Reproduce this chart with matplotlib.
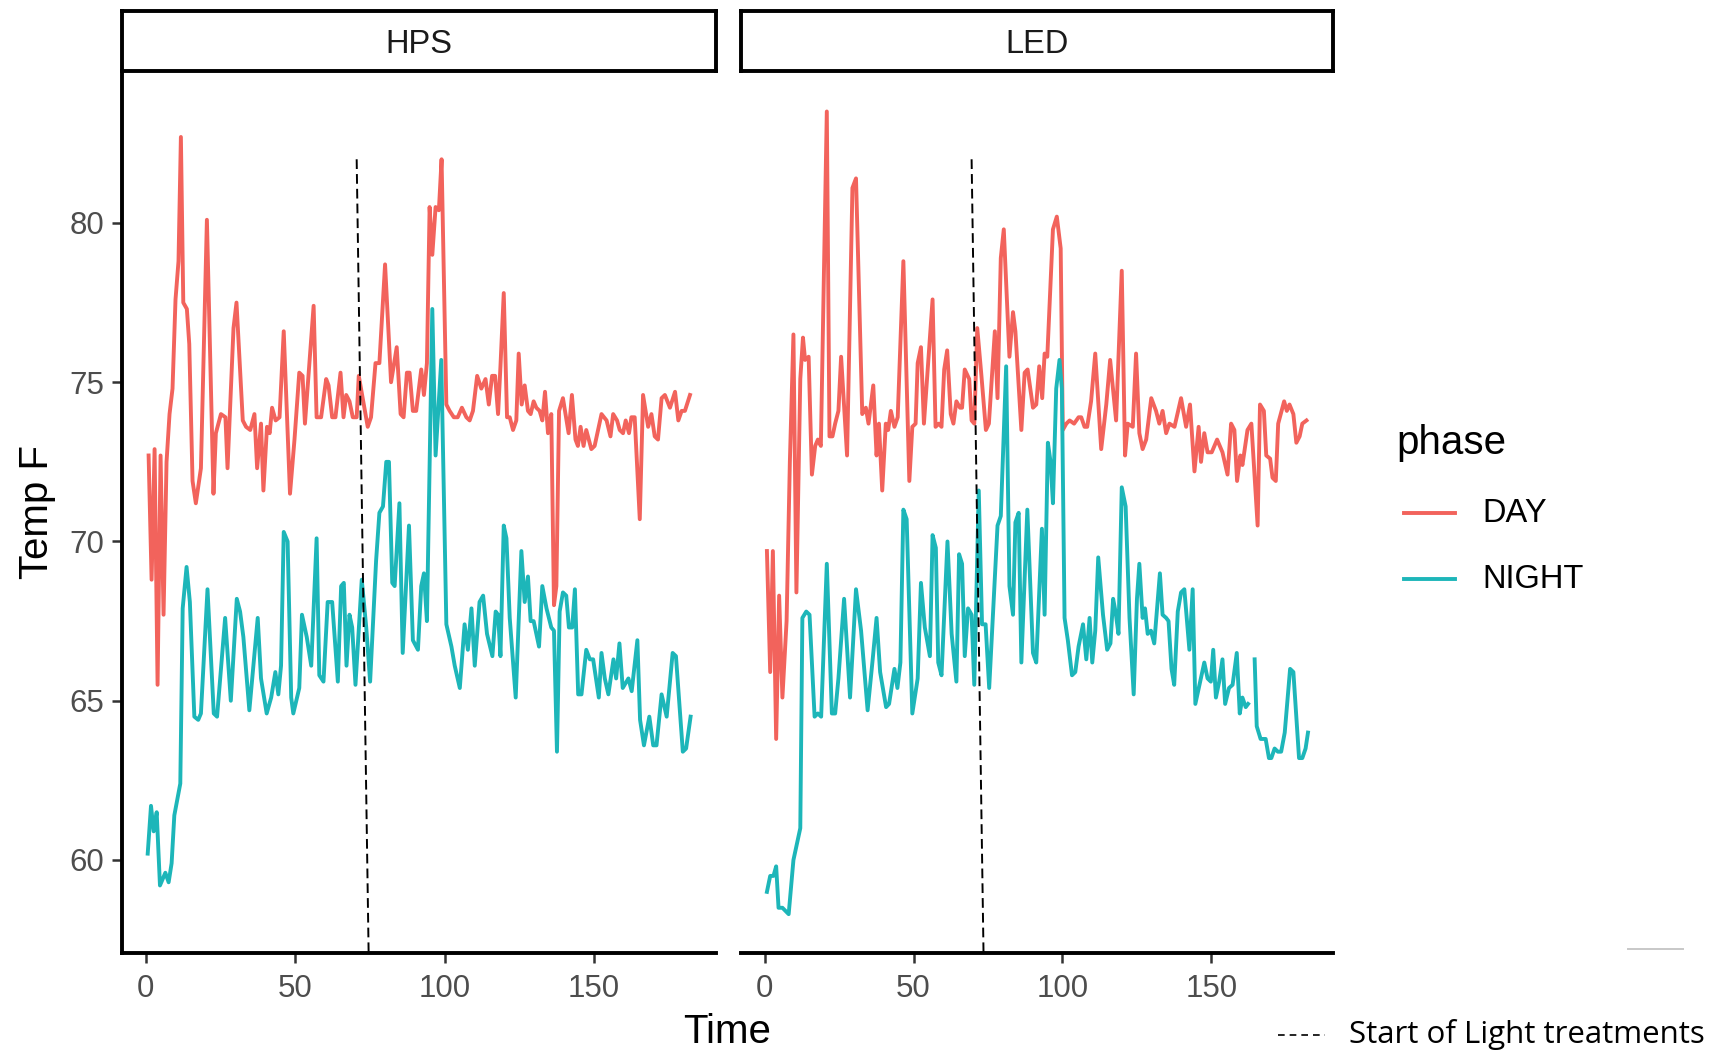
import numpy as np
import matplotlib
matplotlib.use("Agg")
import matplotlib.pyplot as plt
from matplotlib.lines import Line2D

plt.rcParams['font.family'] = ['Liberation Sans', 'DejaVu Sans']

#--- Data: (Time, Temp F) per panel and phase ---------------------------------

hps_day = [(1, 72.7), (2, 68.8), (3, 72.9), (4, 65.5), (5, 72.7), (6, 67.7), (7, 72.5),
           (8, 74.0), (9, 74.8), (10, 77.6), (11, 78.8), (11.8, 82.7), (12.6, 77.5),
           (13.8, 77.3), (14.6, 76.2), (15.7, 71.9), (16.8, 71.2), (18.5, 72.3), (20.5, 80.1),
           (22.7, 71.5), (23.5, 73.4), (25.2, 74.0), (26.7, 73.9), (27.4, 72.3), (29.4, 76.7),
           (30.4, 77.5), (32.5, 73.8), (33.6, 73.6), (35, 73.5), (36.4, 74.0), (37.3, 72.3),
           (38.6, 73.7), (39.4, 71.6), (40.6, 73.6), (41.5, 73.4), (42.3, 74.2), (43.5, 73.8),
           (44.8, 73.9), (46.2, 76.6), (48.3, 71.5), (49.8, 73.2), (51.4, 75.3), (52.5, 75.2),
           (53.3, 73.7), (56.2, 77.4), (57.2, 73.9), (58.7, 73.9), (60.4, 75.1), (61.2, 74.9),
           (62.4, 73.9), (63.5, 73.9), (65.2, 75.3), (66.2, 73.9), (67.1, 74.6), (68.2, 74.4),
           (69.3, 73.9), (70.6, 73.9), (71.3, 75.2), (72.6, 74.5), (74.3, 73.6), (75.4, 73.9),
           (76.9, 75.6), (78.2, 75.6), (80.1, 78.7), (82.1, 75.0), (84.0, 76.1), (85.3, 74.0),
           (86.3, 73.9), (87.4, 75.3), (88.3, 75.3), (89.4, 74.1), (90.5, 74.1), (92.2, 75.4),
           (93.1, 74.6), (94.1, 75.6), (95.0, 80.5), (95.9, 79.0), (97.0, 80.5), (98.1, 80.4),
           (99.0, 82.0), (100.6, 74.3), (101.7, 74.1), (103.1, 73.9), (104.4, 73.9),
           (105.8, 74.2), (107.3, 73.9), (108.4, 73.8), (109.5, 74.1), (110.9, 75.2),
           (112.3, 74.8), (113.7, 75.1), (114.8, 74.3), (115.9, 75.2), (116.9, 75.2),
           (117.9, 74.0), (118.7, 75.5), (119.8, 77.8), (120.9, 73.9), (121.8, 73.9),
           (122.9, 73.5), (124.0, 73.8), (124.8, 75.9), (125.8, 74.3), (126.8, 74.9),
           (127.9, 74.1), (128.8, 74.0), (129.8, 74.4), (130.7, 74.2), (131.8, 74.1),
           (132.7, 73.8), (133.6, 74.7), (134.6, 73.4), (135.7, 74.0), (136.6, 68.0),
           (137.4, 68.6), (138.3, 74.1), (139.6, 74.5), (141.5, 73.4), (142.6, 74.6),
           (143.8, 73.2), (144.6, 73.0), (145.5, 73.6), (146.5, 73.0), (147.4, 73.5),
           (149.1, 72.9), (150.2, 73.0), (152.5, 74.0), (154.2, 73.8), (155.5, 73.3),
           (156.4, 74.0), (157.7, 73.8), (158.6, 73.5), (159.7, 73.4), (160.6, 73.8),
           (161.7, 73.4), (162.5, 73.9), (163.6, 73.9), (165.3, 70.7), (166.4, 74.6),
           (168.1, 73.6), (169.2, 74.0), (170.3, 73.3), (171.4, 73.2), (172.6, 74.5),
           (173.7, 74.6), (175.4, 74.2), (177.1, 74.7), (178.2, 73.8), (179.3, 74.1),
           (180.4, 74.1), (182.1, 74.6)]

hps_night = [(0.7, 60.2), (1.8, 61.7), (2.7, 60.9), (3.7, 61.5), (4.8, 59.2), (6.6, 59.6),
             (7.7, 59.3), (8.7, 59.9), (9.6, 61.4), (11.6, 62.4), (12.4, 67.9), (13.7, 69.2),
             (14.8, 68.1), (16.3, 64.5), (17.6, 64.4), (18.5, 64.6), (20.7, 68.5),
             (22.8, 64.6), (23.9, 64.5), (26.6, 67.6), (28.5, 65.0), (30.5, 68.2), (31.6, 67.8),
             (32.7, 67.0), (34.7, 64.7), (37.5, 67.6), (38.6, 65.7), (40.5, 64.6), (42.0, 65.1),
             (43.4, 65.9), (44.4, 65.2), (45.3, 66.1), (46.2, 70.3), (47.5, 70.0), (48.7, 65.1),
             (49.4, 64.6), (51.4, 65.4), (52.3, 67.7), (53.9, 67.0), (55.4, 66.1), (57.2, 70.1),
             (58.1, 65.8), (59.5, 65.6), (60.9, 68.1), (62.4, 68.1), (64.3, 65.6), (65.4, 68.6),
             (66.3, 68.7), (67.2, 66.1), (68.2, 67.7), (69.1, 67.3), (70.2, 65.5), (72.3, 68.8),
             (73.8, 67.3), (75.1, 65.6), (77.1, 69.4), (78.2, 70.9), (79.4, 71.1), (80.5, 72.5),
             (81.4, 72.5), (82.5, 68.7), (83.3, 68.6), (84.9, 71.2), (86.0, 66.5), (88.1, 70.5),
             (89.4, 66.9), (91.1, 66.6), (92.2, 68.6), (93.1, 69.0), (94.1, 67.5), (95.9, 77.3),
             (97.0, 72.7), (98.9, 75.7), (100.6, 67.4), (102.3, 66.7), (103.4, 66.1),
             (105.1, 65.4), (106.7, 67.4), (107.8, 66.6), (109.0, 67.9), (110.1, 66.1),
             (111.7, 68.1), (112.9, 68.3), (114.2, 67.1), (116.0, 66.4), (117.1, 67.8),
             (117.9, 67.7), (118.7, 66.4), (119.8, 70.5), (120.7, 70.1), (121.8, 67.6),
             (123.8, 65.1), (125.7, 69.7), (126.8, 68.1), (127.9, 68.9), (128.8, 67.5),
             (129.8, 67.5), (131.6, 66.7), (132.7, 68.6), (134.1, 67.9), (135.7, 67.3),
             (136.6, 67.2), (137.6, 63.4), (138.5, 67.8), (139.6, 68.4), (140.7, 68.3),
             (141.6, 67.3), (142.7, 67.3), (143.6, 68.5), (144.7, 65.2), (145.8, 65.2),
             (147.4, 66.6), (148.6, 66.3), (149.7, 66.3), (151.6, 65.1), (152.5, 66.5),
             (153.6, 65.7), (154.8, 65.2), (156.5, 66.3), (157.4, 65.7), (158.5, 66.8),
             (159.6, 65.4), (161.5, 65.7), (162.6, 65.3), (164.5, 66.9), (165.4, 64.4),
             (166.7, 63.6), (168.5, 64.5), (169.8, 63.6), (170.9, 63.6), (172.6, 65.2),
             (174.3, 64.5), (176.3, 66.5), (177.4, 66.4), (179.7, 63.4), (180.8, 63.5),
             (182.3, 64.5)]

led_day = [(0.8, 69.7), (1.9, 65.9), (2.8, 69.7), (3.9, 63.8), (4.9, 68.3), (6.0, 65.1),
           (7.4, 67.5), (8.5, 72.5), (9.7, 76.5), (10.7, 68.4), (12.0, 75.1), (12.9, 76.4),
           (13.6, 75.7), (14.8, 75.8), (15.9, 72.1), (17.0, 73.0), (17.9, 73.2), (18.9, 73.0),
           (20.9, 83.5), (21.8, 73.3), (22.8, 73.3), (23.7, 73.7), (24.8, 74.1), (25.7, 75.8),
           (27.7, 72.7), (29.5, 81.1), (30.7, 81.4), (32.8, 74.0), (34.0, 74.2), (34.9, 73.7),
           (36.5, 74.9), (37.6, 72.7), (38.4, 73.7), (39.5, 71.6), (40.7, 73.7), (41.5, 73.5),
           (42.4, 74.1), (43.6, 73.6), (44.7, 73.9), (46.6, 78.8), (48.6, 71.9), (49.6, 73.6),
           (50.7, 73.7), (51.4, 75.6), (52.5, 76.1), (53.5, 73.7), (56.4, 77.6), (57.4, 73.6),
           (58.5, 73.7), (59.4, 73.6), (60.3, 75.4), (61.3, 76.0), (62.5, 74.0), (63.4, 73.7),
           (64.4, 74.4), (65.6, 74.2), (66.3, 74.2), (67.2, 75.4), (68.7, 75.1), (69.5, 73.8),
           (70.4, 73.7), (71.4, 76.7), (72.8, 75.2), (74.3, 73.5), (75.3, 73.7), (77.3, 76.6),
           (78.2, 74.5), (79.3, 78.9), (80.3, 79.8), (82.2, 75.8), (83.4, 77.2), (84.2, 76.6),
           (86.2, 73.5), (87.3, 75.3), (88.3, 75.4), (90.1, 74.2), (91.2, 74.3), (92.2, 75.5),
           (93.2, 74.5), (94.0, 75.9), (94.9, 75.8), (96.8, 79.8), (98.1, 80.2), (99.4, 79.2),
           (100.1, 73.5), (101.3, 73.7), (102.4, 73.8), (103.9, 73.7), (105.4, 73.9),
           (106.3, 73.9), (107.4, 73.6), (108.3, 73.6), (109.6, 74.4), (111.0, 75.9),
           (113.0, 72.9), (114.7, 74.3), (116.0, 75.7), (118.0, 73.8), (119.9, 78.5),
           (121.0, 72.7), (121.9, 73.7), (123.6, 73.6), (124.7, 75.9), (125.8, 73.4),
           (126.9, 72.9), (128.1, 73.2), (129.8, 74.5), (131.4, 74.1), (132.5, 73.7),
           (133.6, 74.1), (134.8, 73.4), (135.9, 73.7), (137.6, 73.6), (139.8, 74.5),
           (141.5, 73.6), (142.8, 74.3), (144.3, 72.2), (145.7, 73.6), (146.5, 72.5),
           (147.6, 73.4), (148.7, 72.8), (150.1, 72.8), (151.9, 73.2), (153.7, 72.8),
           (155.4, 72.1), (156.6, 73.7), (157.7, 73.5), (158.6, 71.9), (159.7, 72.7),
           (160.4, 72.4), (162.1, 73.5), (163.4, 73.7), (165.5, 70.5), (166.3, 74.3),
           (167.6, 74.1), (168.4, 72.7), (169.7, 72.6), (170.5, 72.0), (171.6, 71.9),
           (172.4, 73.7), (174.4, 74.4), (175.3, 74.1), (176.2, 74.3), (177.5, 74.0),
           (178.5, 73.1), (179.6, 73.3), (180.5, 73.7), (181.9, 73.8)]

led_night = [(0.8, 59.0), (1.9, 59.5), (3.0, 59.5), (3.9, 59.8), (4.7, 58.5), (6.0, 58.5),
             (8.1, 58.3), (9.7, 60.0), (12.0, 61.0), (12.7, 67.6), (14.0, 67.8), (15.1, 67.7),
             (16.8, 64.5), (17.9, 64.6), (19.0, 64.5), (20.9, 69.3), (22.6, 64.6), (23.7, 64.6),
             (24.8, 65.7), (26.7, 68.2), (28.7, 65.1), (30.7, 68.5), (32.4, 67.2), (34.6, 64.7),
             (36.3, 66.3), (37.6, 67.6), (38.8, 65.9), (40.8, 64.8), (41.8, 64.9), (43.6, 66.0),
             (44.6, 65.4), (45.6, 66.2), (46.6, 71.0), (47.7, 70.7), (49.6, 64.6), (51.4, 65.7),
             (52.5, 68.7), (53.8, 67.3), (55.5, 66.4), (56.4, 70.2), (57.5, 69.8), (58.3, 66.2),
             (59.4, 65.8), (61.4, 70.0), (62.8, 67.1), (64.4, 65.6), (65.3, 69.6), (66.3, 69.3),
             (67.2, 66.4), (68.3, 67.9), (69.5, 67.7), (70.4, 65.5), (71.9, 71.6), (73.0, 67.4),
             (74.2, 67.4), (75.4, 65.4), (78.2, 70.5), (79.3, 70.8), (81.1, 75.5), (82.2, 68.6),
             (83.4, 67.7), (84.2, 70.6), (85.3, 70.9), (86.2, 66.2), (88.2, 71.0), (90.1, 66.5),
             (91.2, 66.2), (93.1, 70.4), (94.0, 67.7), (95.1, 73.1), (96.0, 72.5), (96.8, 71.2),
             (97.9, 74.8), (99.0, 75.7), (99.8, 74.8), (100.7, 67.6), (101.8, 66.9),
             (103.2, 65.8), (104.3, 65.9), (105.4, 66.7), (106.9, 67.4), (108.0, 66.3),
             (109.1, 67.6), (110.0, 66.2), (111.0, 67.2), (112.0, 69.5), (113.6, 67.7),
             (115.0, 66.6), (116.1, 66.8), (117.0, 68.2), (117.8, 67.8), (118.8, 67.1),
             (119.9, 71.7), (121.2, 71.1), (122.5, 67.6), (123.9, 65.2), (125.0, 68.2),
             (125.8, 69.3), (126.9, 67.6), (127.7, 67.9), (128.6, 67.1), (129.7, 67.2),
             (130.8, 66.8), (132.7, 69.0), (133.6, 67.7), (134.8, 67.6), (135.6, 67.5),
             (136.6, 66.0), (137.5, 65.5), (138.7, 67.8), (139.8, 68.4), (140.9, 68.5),
             (142.6, 66.6), (143.7, 68.5), (144.6, 64.9), (146.2, 65.6), (147.6, 66.2),
             (148.7, 65.7), (149.8, 65.6), (150.6, 66.6), (151.5, 65.1), (152.6, 65.6),
             (153.7, 66.3), (154.6, 64.9), (155.9, 65.4), (157.1, 65.5), (158.5, 66.5),
             (159.5, 64.6), (160.4, 65.1), (161.5, 64.8), (162.3, 64.9), (163.4, np.nan),
             (164.5, 66.3), (165.2, 64.2), (166.5, 63.8), (168.2, 63.8), (169.3, 63.2),
             (170.1, 63.2), (171.2, 63.5), (172.3, 63.4), (173.4, 63.4), (174.6, 64.0),
             (176.4, 66.0), (177.5, 65.9), (179.4, 63.2), (180.5, 63.2), (181.6, 63.5),
             (182.4, 64.0)]

panels = ['HPS', 'LED']
phases = ['DAY', 'NIGHT']
series = {'HPS': [hps_day, hps_night], 'LED': [led_day, led_night]}

# hand-drawn "start of light treatments" marker: (x at top, x at bottom) per panel
treat_x = {'HPS': (70.6, 74.6), 'LED': (69.5, 73.5)}
treat_top = 82.0

phase_cols = ['#F2635C', '#1DB6B9']
y_ticks = [60, 65, 70, 75, 80]
x_ticks = [0, 50, 100, 150]

#--- Figure -------------------------------------------------------------------

W, H = 1713, 1053
fig = plt.figure(figsize=(W / 100, H / 100), dpi=100)

def fx(px):
    return px / W

def fy(py):
    return 1 - py / H

ylim = (57.08, 84.74)
xlim = (-7.9, 190.8)
panel_px = {'HPS': (122, 716), 'LED': (741, 1333)}
top_px, bot_px = 72, 953

for i, name in enumerate(panels):
    l, r = panel_px[name]
    ax = fig.add_axes([fx(l), fy(bot_px), fx(r - l), fy(top_px) - fy(bot_px)])
    for data, col in zip(series[name], phase_cols):
        t, temp = zip(*data)
        ax.plot(t, temp, color=col, lw=2.8)
    tx = treat_x[name]
    ax.plot(tx, [treat_top, ylim[0]], color='black', lw=1.4, dashes=(5, 2.6))

    ax.set_xlim(*xlim)
    ax.set_ylim(*ylim)
    ax.set_xticks(x_ticks)
    ax.set_yticks(y_ticks)
    for s in ['top', 'right']:
        ax.spines[s].set_visible(False)
    ax.spines['bottom'].set_linewidth(2.8)
    ax.spines['left'].set_linewidth(2.8)
    ax.tick_params(axis='both', length=7, width=1.8, color='#333333',
                   labelsize=22.5, labelcolor='#4D4D4D', pad=6)
    ax.tick_params(axis='x', pad=8)
    if i > 0:
        ax.spines['left'].set_visible(False)
        ax.tick_params(axis='y', left=False, labelleft=False)

    # facet strip
    sax = fig.add_axes([fx(l), fy(71), fx(r - l), fy(11) - fy(71)])
    sax.set_xticks([])
    sax.set_yticks([])
    for s in sax.spines.values():
        s.set_linewidth(2.8)
        s.set_color('black')
    sax.text(0.5, 0.44, name, ha='center', va='center', fontsize=23.5, color='#1A1A1A')

fig.text(fx(727), fy(1032), 'Time', ha='center', va='center', fontsize=29)
fig.text(fx(37), fy(512), 'Temp F', ha='center', va='center', fontsize=29, rotation=90)

# legend for phase
fig.text(fx(1396), fy(443), 'phase', ha='left', va='center', fontsize=29)
for j, (lab, col) in enumerate(zip(phases, phase_cols)):
    yk = fy(513 + 66 * j)
    fig.add_artist(Line2D([fx(1404), fx(1455)], [yk, yk], color=col, lw=2.8))
    fig.text(fx(1482), yk, lab, ha='left', va='center', fontsize=23.5)

# note under the legend
fig.add_artist(Line2D([fx(1278), fx(1325)], [fy(1035), fy(1035)], color='black',
                      lw=1.2, dashes=(4, 3)))
fig.text(fx(1349), fy(1035), 'Start of Light treatments', ha='left', va='center',
         fontsize=22.5, family=['Open Sans', 'DejaVu Sans'], color='black')
fig.add_artist(Line2D([fx(1628), fx(1683)], [fy(949), fy(949)], color='#C8C8C8', lw=1.4))

fig.savefig('out.png', dpi=100)
